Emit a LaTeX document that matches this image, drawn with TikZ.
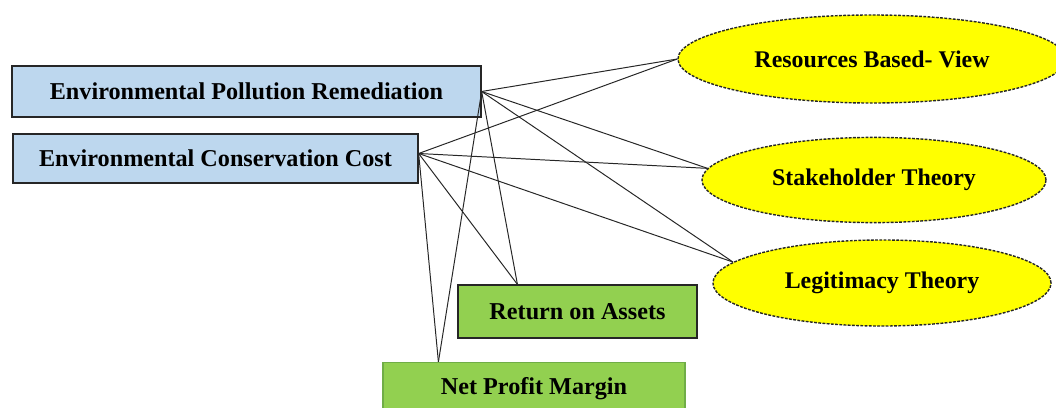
\documentclass[tikz,border=0pt]{standalone}
\usepackage{fontspec}
\setmainfont{Liberation Serif}
\usetikzlibrary{shapes.geometric,calc}
\definecolor{boxblue}{RGB}{189,215,238}
\definecolor{boxgreen}{RGB}{146,208,80}
\definecolor{edgegreen}{RGB}{112,173,71}
\definecolor{theoryyellow}{RGB}{255,255,0}
\tikzset{
  varbox/.style={draw=black!85, line width=1pt, fill=boxblue, rectangle, align=center, font=\fontsize{17.2}{20}\selectfont\bfseries, inner sep=0pt},
  outbox/.style={varbox, fill=boxgreen},
  theory/.style={draw=black!85, fill=theoryyellow, ellipse, dash pattern=on 2pt off 1pt, line width=1pt, font=\fontsize{17}{20}\selectfont\bfseries, inner sep=0pt},
  link/.style={draw=black!85, line width=0.7pt}
}
\begin{document}
\begin{tikzpicture}[x=0.025cm, y=-0.025cm]
\useasboundingbox (0,0) rectangle (1056,407);
\node[varbox, minimum width=11.72cm, minimum height=1.27cm] (epr) at (246.5,91.5) {Environmental Pollution Remediation};
\node[varbox, minimum width=10.12cm, minimum height=1.22cm] (ecc) at (215.5,158.5) {Environmental Conservation Cost};
\node[outbox, minimum width=5.97cm, minimum height=1.32cm] (roa) at (577.5,311.5) {Return on Assets};
\node[outbox, draw=edgegreen, minimum width=7.55cm, minimum height=1.32cm] (npm) at (534,389) {Net Profit Margin};
\node[theory, minimum width=9.7cm, minimum height=2.2cm] (rbv) at (872,59) {Resources Based- View};
\node[theory, minimum width=8.6cm, minimum height=2.13cm] (sht) at (874,180) {Stakeholder Theory};
\node[theory, minimum width=8.45cm, minimum height=2.15cm] (lgt) at (882,283) {Legitimacy Theory};

\coordinate (eccout) at ($(ecc.east)+(0,-5)$);
\draw[link] (epr.east) -- (rbv.west);
\draw[link] (epr.east) -- (sht.176);
\draw[link] (epr.east) -- (lgt.172);
\draw[link] (epr.east) -- ($(roa.north west)!0.25!(roa.north east)$);
\draw[link] (epr.east) -- ($(npm.north west)!0.185!(npm.north east)$);
\draw[link] (eccout) -- (rbv.west);
\draw[link] (eccout) -- (sht.176);
\draw[link] (eccout) -- (lgt.172);
\draw[link] (eccout) -- ($(roa.north west)!0.25!(roa.north east)$);
\draw[link] (eccout) -- ($(npm.north west)!0.185!(npm.north east)$);
\end{tikzpicture}
\end{document}
